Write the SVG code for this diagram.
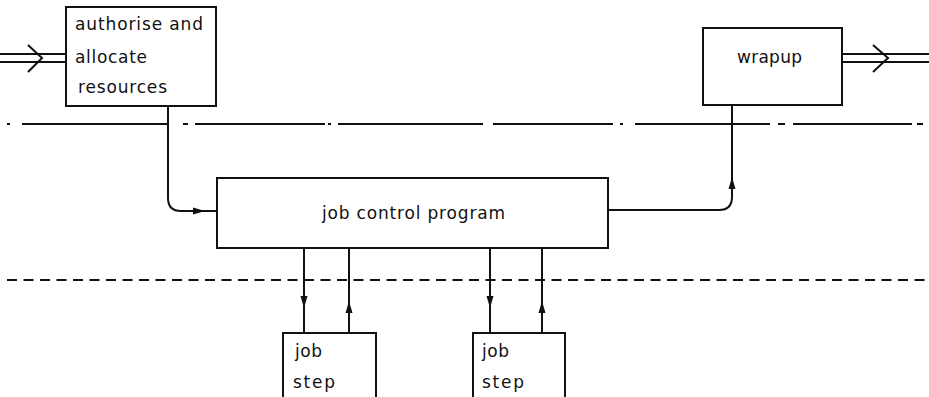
<svg xmlns="http://www.w3.org/2000/svg" width="929" height="397" viewBox="0 0 929 397">
<style>
.box{fill:#fff;stroke:#111;stroke-width:2}
.ln{fill:none;stroke:#111;stroke-width:2}
.sep{fill:none;stroke:#111;stroke-width:2}
.t{font-family:"DejaVu Sans","Liberation Sans",Arial,sans-serif;font-size:17px;fill:#111}
</style>
<defs>
<marker id="ah" markerUnits="userSpaceOnUse" markerWidth="13" markerHeight="10" refX="12" refY="4" orient="auto" viewBox="0 0 13 8">
<path d="M0,0.5 L12,4 L0,7.5 Z" fill="#111"/>
</marker>
</defs>
<g id="separators">
<path class="sep" d="M7,124 H10 M22,124 H167 M183,124 H188 M195,124 H325 M328,124 H331 M338,124 H483 M493,124 H613 M620,124 H623 M635,124 H770 M778,124 H785 M793,124 H912 M917,124 H923"/>
<path class="sep" d="M7,280 H925" stroke-dasharray="10 6.5"/>
</g>
<g id="connectors">
<path class="ln" d="M0,54 H66 M0,62 H66"/>
<polyline class="ln" points="28,45 42,58 28,72"/>
<path class="ln" d="M843,54 H929 M843,62 H929"/>
<polyline class="ln" points="873,45 888,58 873,72"/>
<path class="ln" d="M168,106 V198 Q168,211 181,211 H205" marker-end="url(#ah)"/>
<path class="ln" d="M204,211 H217"/>
<path class="ln" d="M608,210 H719 Q732,210 732,197 V177" marker-end="url(#ah)"/>
<path class="ln" d="M732,178 V105"/>
<path class="ln" d="M304,248 V308" marker-end="url(#ah)"/>
<path class="ln" d="M304,307 V333"/>
<path class="ln" d="M349,333 V301" marker-end="url(#ah)"/>
<path class="ln" d="M349,302 V248"/>
<path class="ln" d="M490,248 V308" marker-end="url(#ah)"/>
<path class="ln" d="M490,307 V333"/>
<path class="ln" d="M542,333 V301" marker-end="url(#ah)"/>
<path class="ln" d="M542,302 V248"/>
</g>
<g id="authorise">
<rect class="box" x="66" y="7" width="150" height="99"/>
<text class="t" x="75" y="30" textLength="128" lengthAdjust="spacing">authorise and</text>
<text class="t" x="75" y="63" textLength="72" lengthAdjust="spacing">allocate</text>
<text class="t" x="78" y="93" textLength="89" lengthAdjust="spacing">resources</text>
</g>
<g id="wrapup">
<rect class="box" x="703" y="28" width="139" height="77"/>
<text class="t" x="737" y="63" textLength="65" lengthAdjust="spacing">wrapup</text>
</g>
<g id="jcp">
<rect class="box" x="217" y="178" width="391" height="70"/>
<text class="t" x="322" y="219" textLength="183" lengthAdjust="spacing">job control program</text>
</g>
<g id="jobstep1">
<rect class="box" x="283" y="333" width="93" height="70"/>
<text class="t" x="295" y="357" textLength="27" lengthAdjust="spacing">job</text>
<text class="t" x="293" y="388" textLength="42" lengthAdjust="spacing">step</text>
</g>
<g id="jobstep2">
<rect class="box" x="473" y="333" width="92" height="70"/>
<text class="t" x="482" y="357" textLength="27" lengthAdjust="spacing">job</text>
<text class="t" x="482" y="388" textLength="42" lengthAdjust="spacing">step</text>
</g>
</svg>
